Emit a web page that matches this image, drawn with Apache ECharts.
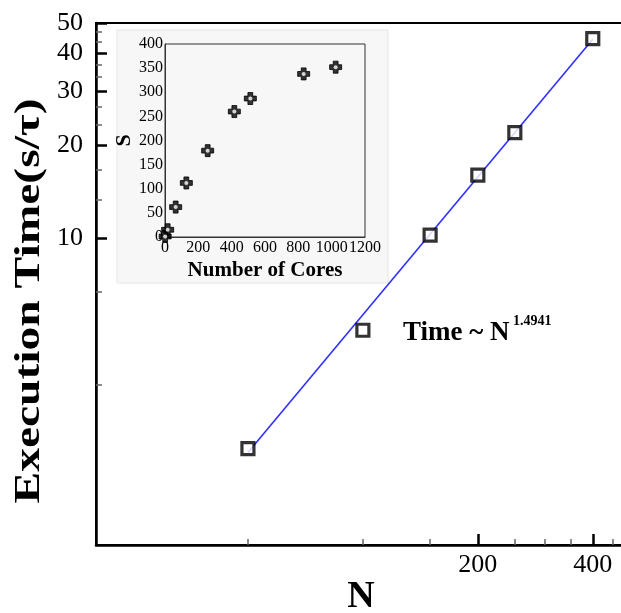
<!DOCTYPE html>
<html>
<head>
<meta charset="utf-8">
<script src="https://cdn.jsdelivr.net/npm/echarts@6/dist/echarts.min.js"></script>
<style>html,body{margin:0;padding:0;background:#fff;}#chart{width:621px;height:613px;}</style>
</head>
<body>
<div id="chart"></div>
<script>
// Main chart data (log-log)
const mainN = [50, 100, 150, 200, 250, 400];
const mainTime = [2.06, 5.0, 10.2, 16.0, 22.0, 44.5];
const fitN = [50, 400];
const fitTime = [2.0, 44.3];
const xMajorTicks = [200, 400];
const xMinorTicks = [50, 100, 150, 250, 300, 350, 450];
const yMajorTicks = [10, 20, 30, 40, 50];
const yMinorTicks = [3.333, 6.667, 13.333, 16.667, 23.333, 26.667, 33.333, 36.667, 43.333, 46.667];
// Inset data
const cores = [1, 16, 64, 128, 256, 416, 512, 832, 1024];
const speedup = [1, 15, 62, 112, 179, 260, 287, 338, 352];

const serif = '"Liberation Serif", "Times New Roman", serif';
const chart = echarts.init(document.getElementById('chart'), null, {renderer: 'canvas'});

const mainPts = mainN.map((n, i) => [n, mainTime[i]]);
const fitPts = fitN.map((n, i) => [n, fitTime[i]]);
const insetPts = cores.map((c, i) => [c, speedup[i]]);

chart.setOption({
  backgroundColor: '#ffffff',
  animation: false,
  grid: [
    {left: 96, top: 23, width: 564, height: 522, outerBoundsMode: 'none', containLabel: false,
     show: true, borderColor: '#000', borderWidth: 2, backgroundColor: 'transparent'},
    {left: 165, top: 44, width: 200, height: 193, outerBoundsMode: 'none', containLabel: false,
     show: true, borderColor: '#333', borderWidth: 1, backgroundColor: 'transparent'}
  ],
  xAxis: [
    {gridIndex: 0, type: 'log', min: 20, max: 600, position: 'bottom',
     axisLine: {show: true, lineStyle: {color: '#000', width: 2.5}},
     axisTick: {show: true, inside: true, length: 11, customValues: xMajorTicks, lineStyle: {color: '#000', width: 2.5}},
     axisLabel: {show: true, customValues: xMajorTicks, margin: 7, fontFamily: serif, fontSize: 26, color: '#000'},
     splitLine: {show: false}, minorTick: {show: false}},
    {gridIndex: 0, type: 'log', min: 20, max: 600, position: 'bottom',
     axisLine: {show: false},
     axisTick: {show: true, inside: true, length: 6, customValues: xMinorTicks, lineStyle: {color: '#666', width: 1.5}},
     axisLabel: {show: false}, splitLine: {show: false}},
    {gridIndex: 1, type: 'value', min: 0, max: 1200, interval: 200,
     axisLine: {show: true, lineStyle: {color: '#333', width: 1}},
     axisTick: {show: false},
     axisLabel: {fontFamily: serif, fontSize: 16, color: '#000', margin: 3, hideOverlap: false, showMinLabel: true, showMaxLabel: true,
                 formatter: function (v) { return String(v); }},
     splitLine: {show: false},
     name: 'Number of Cores', nameLocation: 'middle', nameGap: 23, nameTextStyle: {fontFamily: serif, fontWeight: 'bold', fontSize: 21, color: '#000'}}
  ],
  yAxis: [
    {gridIndex: 0, type: 'log', min: 1, max: 50, position: 'left',
     axisLine: {show: true, lineStyle: {color: '#000', width: 2.5}},
     axisTick: {show: true, inside: true, length: 11, customValues: yMajorTicks, lineStyle: {color: '#000', width: 2.5}},
     axisLabel: {show: true, customValues: yMajorTicks, margin: 13, fontFamily: serif, fontSize: 26, color: '#000'},
     splitLine: {show: false}, minorTick: {show: false}},
    {gridIndex: 0, type: 'log', min: 1, max: 50, position: 'left',
     axisLine: {show: false},
     axisTick: {show: true, inside: true, length: 6, customValues: yMinorTicks, lineStyle: {color: '#666', width: 1.5}},
     axisLabel: {show: false}, splitLine: {show: false}},
    {gridIndex: 1, type: 'value', min: 0, max: 400, interval: 50,
     axisLine: {show: true, lineStyle: {color: '#333', width: 1}},
     axisTick: {show: false},
     axisLabel: {fontFamily: serif, fontSize: 16, color: '#000', margin: 2, hideOverlap: false},
     splitLine: {show: false},
     name: 'S', nameLocation: 'middle', nameGap: 22, nameRotate: 90, nameTextStyle: {fontFamily: serif, fontWeight: 'bold', fontSize: 22, color: '#000'}}
  ],
  graphic: [
    {type: 'rect', z: -1, shape: {x: 117, y: 30, width: 271, height: 253}, style: {fill: '#f7f7f7', stroke: '#e6e6e6', lineWidth: 1}},
    {type: 'text', x: 30, y: 301, rotation: Math.PI / 2, scaleX: 1.32,
     style: {text: 'Execution Time(s/τ)', font: 'bold 36px ' + serif, fill: '#000', textAlign: 'center', textVerticalAlign: 'middle'}},
    {type: 'text', x: 361, y: 597, style: {text: 'N', font: 'bold 38px ' + serif, fill: '#000', textAlign: 'center', textVerticalAlign: 'middle'}},
    {type: 'text', x: 403, y: 333, style: {text: 'Time ~ N', font: 'bold 27px ' + serif, fill: '#000', textAlign: 'left', textVerticalAlign: 'middle'}},
    {type: 'text', x: 513, y: 321, style: {text: '1.4941', font: 'bold 14px ' + serif, fill: '#000', textAlign: 'left', textVerticalAlign: 'middle'}}
  ],
  series: [
    {type: 'line', xAxisIndex: 0, yAxisIndex: 0, data: fitPts, symbol: 'none', z: 2,
     lineStyle: {color: '#2f2fff', width: 1.6}},
    {type: 'scatter', xAxisIndex: 0, yAxisIndex: 0, data: mainPts, symbol: 'rect', symbolSize: 12, z: 3,
     itemStyle: {color: '#fff', borderColor: '#000', borderWidth: 3.2}},
    {type: 'scatter', xAxisIndex: 2, yAxisIndex: 2, data: insetPts, z: 5,
     symbol: 'path://M3,0 L7,0 L7,3 L10,3 L10,7 L7,7 L7,10 L3,10 L3,7 L0,7 L0,3 L3,3 Z', symbolSize: 12,
     itemStyle: {color: '#000', borderColor: '#000', borderWidth: 1}},
    {type: 'scatter', xAxisIndex: 2, yAxisIndex: 2, data: insetPts, z: 6,
     symbol: 'circle', symbolSize: 4, itemStyle: {color: '#fff'}}
  ]
});
</script>
</body>
</html>
